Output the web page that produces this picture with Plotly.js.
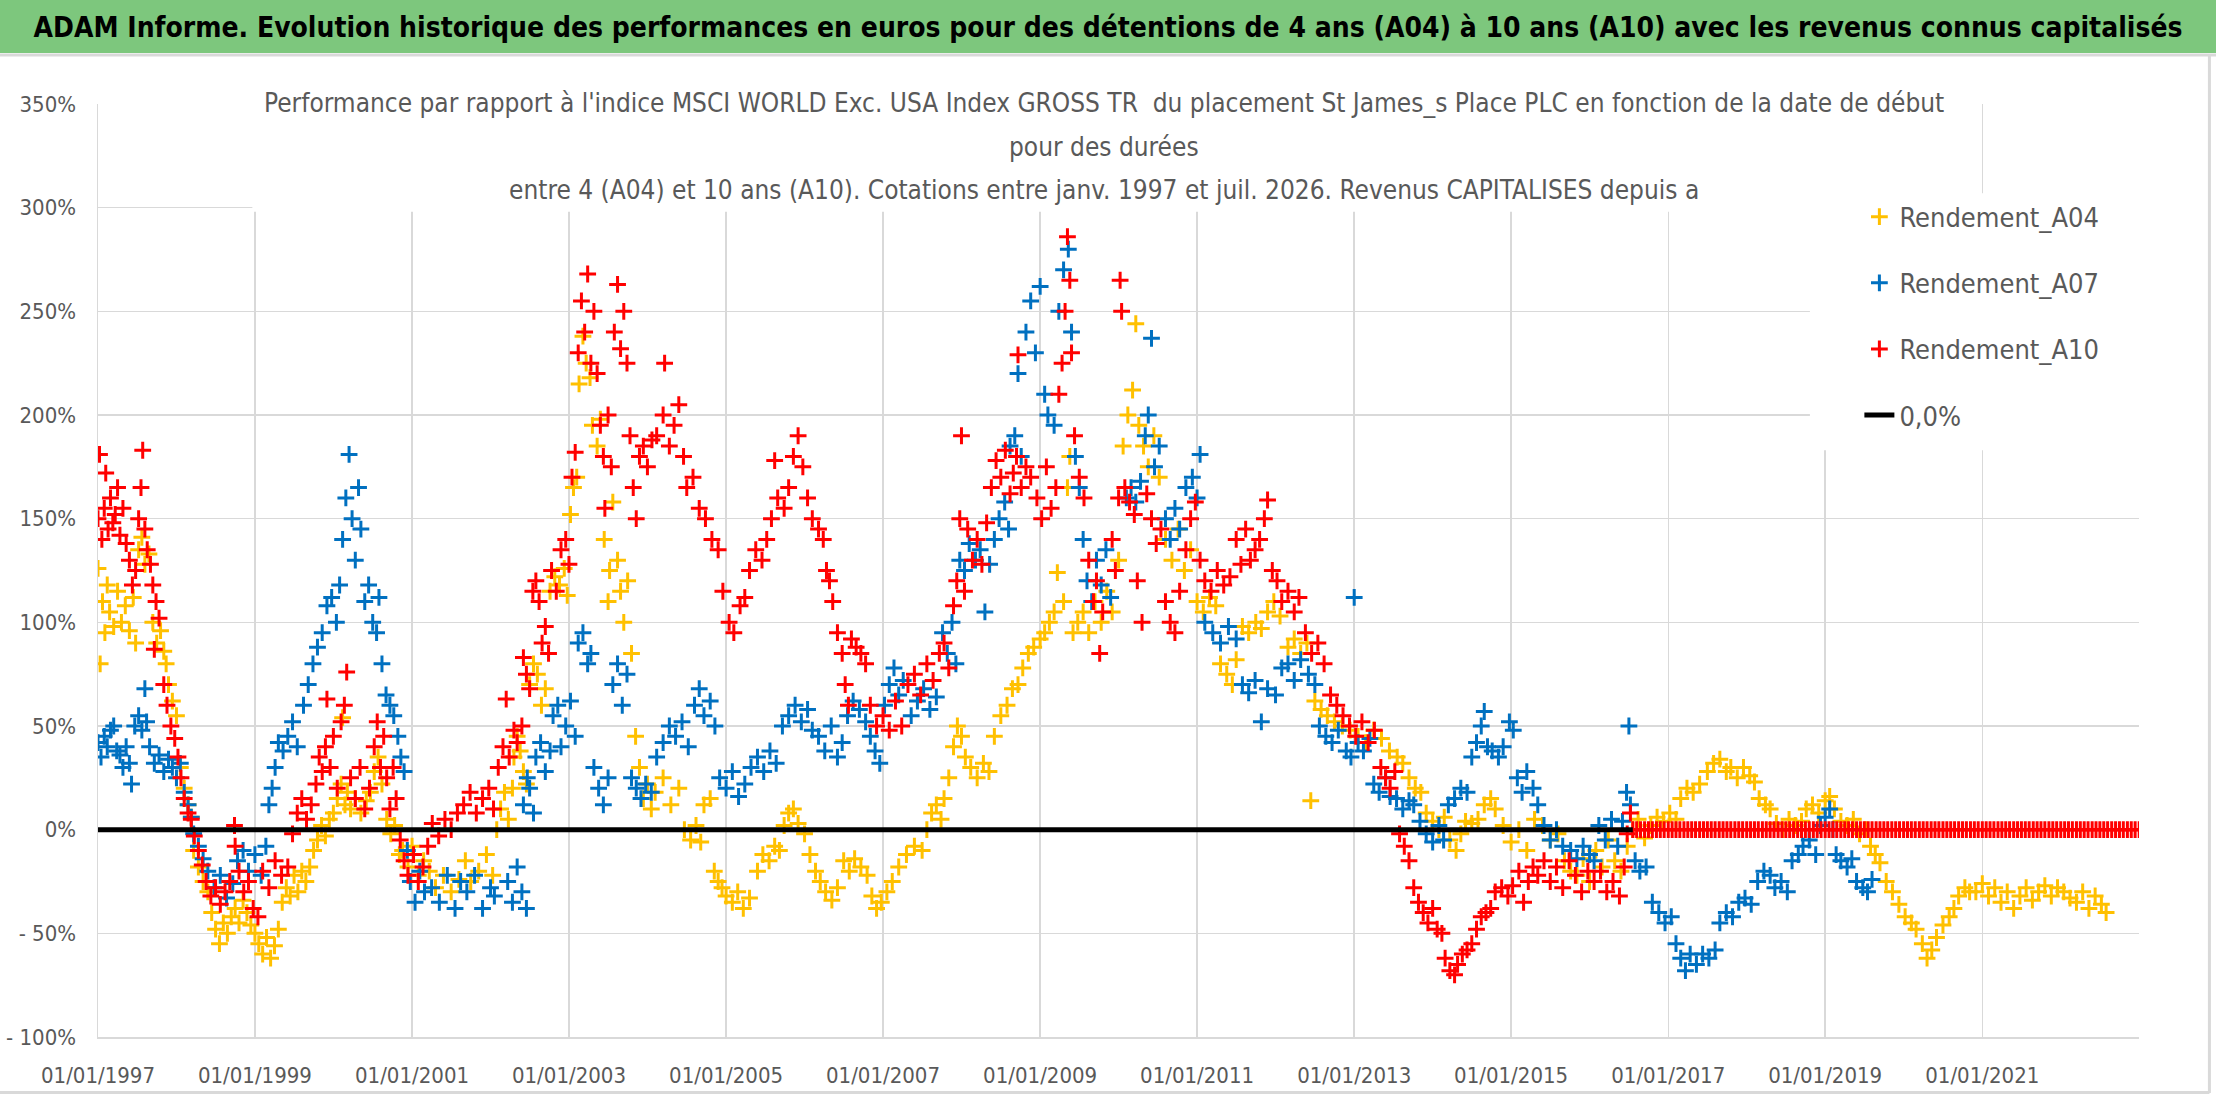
<!DOCTYPE html>
<html>
<head>
<meta charset="utf-8">
<script src="https://cdn.plot.ly/plotly-3.0.1.min.js"></script>
<style>
  html, body { margin: 0; padding: 0; background: #ffffff; }
  #chart { width: 2216px; height: 1102px; }
</style>
</head>
<body>
<div id="chart"></div>
<script>
'use strict';

// [decimal year, performance %]
const a04Points = [
  [1997.00,126],[1997.03,80],[1997.06,110],[1997.09,95],[1997.12,118],[1997.15,105],[1997.20,98],[1997.25,115],
  [1997.30,100],[1997.35,108],[1997.40,96],[1997.45,112],[1997.48,90],[1997.52,135],[1997.56,141],[1997.60,128],
  [1997.65,133],[1997.70,100],[1997.75,90],[1997.80,96],[1997.84,86],[1997.87,80],[1997.90,70],[1997.95,62],
  [1998.00,55],[1998.05,30],[1998.10,20],[1998.15,12],[1998.19,6],[1998.22,-10],[1998.28,-18],[1998.34,-25],
  [1998.40,-30],[1998.45,-40],[1998.50,-48],[1998.55,-55],[1998.60,-45],[1998.65,-50],[1998.70,-42],[1998.75,-38],
  [1998.80,-45],[1998.85,-34],[1998.90,-40],[1998.95,-46],[1999.00,-50],[1999.05,-55],[1999.10,-60],[1999.15,-52],
  [1999.20,-62],[1999.25,-56],[1999.30,-48],[1999.35,-35],[1999.40,-28],[1999.45,-32],[1999.50,-22],[1999.55,-30],
  [1999.60,-20],[1999.65,-25],[1999.70,-18],[1999.75,-10],[1999.80,-5],[1999.85,2],[1999.90,-3],[1999.95,5],
  [2000.00,8],[2000.05,15],[2000.10,22],[2000.12,54],[2000.15,12],[2000.18,18],[2000.22,10],[2000.28,15],
  [2000.35,8],[2000.42,14],[2000.47,18],[2000.52,28],[2000.57,35],[2000.62,22],[2000.68,5],[2000.73,-2],
  [2000.78,2],[2000.84,-12],[2000.88,-10],[2000.95,-18],[2001.00,-8],[2001.08,-22],[2001.15,-15],[2001.22,-20],
  [2001.30,-28],[2001.40,-22],[2001.50,-30],[2001.60,-24],[2001.68,-15],[2001.75,-25],[2001.85,-20],[2001.95,-12],
  [2002.03,-22],[2002.08,0],[2002.13,10],[2002.18,18],[2002.23,5],[2002.28,20],[2002.30,35],[2002.34,45],
  [2002.38,38],[2002.42,28],[2002.46,22],[2002.50,70],[2002.55,80],[2002.60,75],[2002.65,60],[2002.70,68],
  [2002.76,115],[2002.82,122],[2002.88,118],[2002.94,126],[2002.98,113],[2003.02,152],[2003.06,165],[2003.10,170],
  [2003.13,215],[2003.18,238],[2003.22,225],[2003.27,218],[2003.30,195],[2003.36,185],[2003.40,198],[2003.45,140],
  [2003.50,110],[2003.52,125],[2003.56,158],[2003.62,130],[2003.66,115],[2003.70,100],[2003.75,120],[2003.80,85],
  [2003.85,45],[2003.90,30],[2003.95,15],[2004.00,22],[2004.05,10],[2004.10,18],[2004.20,25],[2004.30,12],
  [2004.40,20],[2004.47,0],[2004.55,-5],[2004.62,2],[2004.68,-6],[2004.72,12],[2004.80,15],[2004.85,-20],
  [2004.90,-25],[2004.95,-28],[2005.00,-32],[2005.08,-35],[2005.15,-30],[2005.22,-38],[2005.30,-33],[2005.40,-20],
  [2005.47,-12],[2005.55,-15],[2005.62,-8],[2005.68,-10],[2005.74,2],[2005.80,8],[2005.86,10],[2005.92,3],
  [2006.00,-2],[2006.07,-12],[2006.14,-20],[2006.20,-25],[2006.27,-30],[2006.35,-34],[2006.42,-28],[2006.50,-15],
  [2006.57,-20],[2006.64,-14],[2006.72,-18],[2006.80,-22],[2006.86,-32],[2006.92,-38],[2006.98,-35],[2007.05,-30],
  [2007.12,-25],[2007.20,-18],[2007.30,-12],[2007.40,-8],[2007.50,-10],[2007.56,0],[2007.62,8],[2007.68,12],
  [2007.74,5],[2007.78,15],[2007.84,25],[2007.90,40],[2007.95,50],[2008.00,45],[2008.05,35],[2008.12,30],
  [2008.20,25],[2008.28,32],[2008.35,28],[2008.42,45],[2008.50,55],[2008.58,60],[2008.65,68],[2008.72,70],
  [2008.78,78],[2008.85,85],[2008.92,88],[2009.00,92],[2009.06,95],[2009.12,100],[2009.18,105],[2009.22,124],
  [2009.30,110],[2009.35,165],[2009.38,180],[2009.42,95],[2009.48,100],[2009.55,105],[2009.62,95],[2009.70,110],
  [2009.78,100],[2009.85,115],[2009.92,105],[2010.00,130],[2010.06,185],[2010.12,200],[2010.18,212],[2010.22,244],
  [2010.26,195],[2010.32,185],[2010.38,175],[2010.45,190],[2010.52,170],[2010.60,140],[2010.68,130],[2010.76,145],
  [2010.84,125],[2010.92,135],[2011.00,110],[2011.08,105],[2011.16,112],[2011.24,108],[2011.30,80],[2011.38,75],
  [2011.45,70],[2011.50,82],[2011.58,98],[2011.66,95],[2011.75,100],[2011.82,97],[2011.90,105],[2011.98,110],
  [2012.06,103],[2012.16,88],[2012.24,92],[2012.32,85],[2012.40,90],[2012.45,14],[2012.50,62],[2012.58,58],
  [2012.66,55],[2012.75,52],[2012.85,50],[2012.95,48],[2013.05,45],[2013.15,42],[2013.25,48],[2013.35,44],
  [2013.45,38],[2013.55,35],[2013.62,32],[2013.70,25],[2013.78,20],[2013.85,18],[2013.92,8],[2014.00,4],
  [2014.08,0],[2014.15,6],[2014.22,-5],[2014.30,-10],[2014.36,-2],[2014.42,4],[2014.50,3],[2014.58,5],
  [2014.66,12],[2014.74,15],[2014.80,10],[2014.90,2],[2015.00,-6],[2015.10,0],[2015.20,-10],[2015.30,5],
  [2015.40,2],[2015.50,-5],[2015.60,-2],[2015.68,-15],[2015.76,-20],[2015.84,-22],[2015.92,-14],[2016.00,-25],
  [2016.08,-10],[2016.16,-18],[2016.24,-5],[2016.32,-15],[2016.40,-20],[2016.48,-8],[2016.55,0],[2016.62,5],
  [2016.70,-4],[2016.78,2],[2016.86,6],[2016.94,4],[2017.02,8],[2017.10,5],[2017.16,15],[2017.24,20],
  [2017.32,18],[2017.40,22],[2017.50,28],[2017.58,32],[2017.66,34],[2017.74,28],[2017.80,30],[2017.88,25],
  [2017.96,30],[2018.04,26],[2018.10,23],[2018.16,15],[2018.24,12],[2018.30,10],[2018.38,3],[2018.46,0],
  [2018.54,5],[2018.62,2],[2018.70,4],[2018.76,10],[2018.84,12],[2018.92,8],[2019.00,14],[2019.06,16],
  [2019.12,10],[2019.20,4],[2019.28,2],[2019.36,5],[2019.44,-2],[2019.52,0],[2019.58,-8],[2019.64,-12],
  [2019.70,-16],[2019.78,-25],[2019.86,-30],[2019.94,-36],[2020.02,-42],[2020.10,-45],[2020.16,-48],[2020.24,-55],
  [2020.30,-62],[2020.36,-58],[2020.42,-52],[2020.50,-46],[2020.58,-42],[2020.64,-38],[2020.70,-32],[2020.78,-28],
  [2020.84,-30],[2020.92,-30],[2021.00,-26],[2021.08,-32],[2021.16,-28],[2021.24,-35],[2021.32,-30],[2021.40,-38],
  [2021.48,-32],[2021.56,-28],[2021.64,-34],[2021.72,-30],[2021.80,-27],[2021.88,-32],[2021.96,-28],[2022.04,-30],
  [2022.12,-33],[2022.20,-35],[2022.28,-30],[2022.36,-38],[2022.44,-32],[2022.52,-36],[2022.58,-40]
];

const a07Points = [
  [1997.00,42],[1997.04,35],[1997.08,45],[1997.12,40],[1997.16,48],[1997.20,50],[1997.24,38],[1997.28,36],
  [1997.32,30],[1997.36,40],[1997.40,32],[1997.43,22],[1997.47,50],[1997.52,55],[1997.56,48],[1997.60,68],
  [1997.62,52],[1997.66,40],[1997.72,32],[1997.78,36],[1997.84,28],[1997.90,34],[1997.95,30],[1998.00,25],
  [1998.05,32],[1998.10,18],[1998.15,12],[1998.19,6],[1998.22,-2],[1998.28,-8],[1998.34,-14],[1998.40,-20],
  [1998.48,-28],[1998.56,-22],[1998.64,-33],[1998.72,-26],[1998.78,-15],[1998.85,-10],[1998.92,-20],[1999.00,-12],
  [1999.08,-22],[1999.14,-8],[1999.18,12],[1999.22,20],[1999.26,30],[1999.30,42],[1999.36,38],[1999.42,45],
  [1999.48,52],[1999.54,40],[1999.62,60],[1999.68,70],[1999.74,80],[1999.80,88],[1999.86,95],[1999.92,108],
  [1999.98,112],[2000.04,100],[2000.08,118],[2000.12,140],[2000.16,160],[2000.20,181],[2000.24,150],[2000.28,130],
  [2000.32,165],[2000.35,145],[2000.40,110],[2000.45,118],[2000.50,100],[2000.55,95],[2000.58,112],[2000.62,80],
  [2000.67,65],[2000.72,60],[2000.77,55],[2000.82,45],[2000.86,35],[2000.90,28],[2000.94,-10],[2000.98,-25],
  [2001.04,-35],[2001.10,-20],[2001.16,-30],[2001.25,-28],[2001.35,-35],[2001.45,-22],[2001.55,-38],[2001.62,-25],
  [2001.70,-30],[2001.80,-22],[2001.90,-38],[2002.00,-28],[2002.05,-32],[2002.22,-25],[2002.28,-35],[2002.34,-18],
  [2002.40,-30],[2002.46,-38],[2002.42,12],[2002.47,25],[2002.50,20],[2002.55,8],[2002.58,35],[2002.64,42],
  [2002.70,28],[2002.76,38],[2002.80,55],[2002.86,60],[2002.90,40],[2002.96,50],[2003.02,62],[2003.08,45],
  [2003.12,90],[2003.18,95],[2003.24,80],[2003.28,85],[2003.32,30],[2003.38,20],[2003.44,12],[2003.50,25],
  [2003.56,70],[2003.62,80],[2003.68,60],[2003.74,75],[2003.80,25],[2003.86,20],[2003.92,15],[2003.98,22],
  [2004.05,18],[2004.12,35],[2004.20,42],[2004.28,50],[2004.36,45],[2004.44,52],[2004.52,40],[2004.60,60],
  [2004.66,68],[2004.72,55],[2004.80,62],[2004.86,50],[2004.92,25],[2005.00,20],[2005.08,28],[2005.16,16],
  [2005.24,22],[2005.32,30],[2005.40,35],[2005.48,28],[2005.56,38],[2005.64,32],[2005.72,50],[2005.80,55],
  [2005.88,60],[2005.96,52],[2006.04,58],[2006.10,48],[2006.18,45],[2006.26,38],[2006.34,50],[2006.42,35],
  [2006.48,42],[2006.55,55],[2006.62,62],[2006.70,58],[2006.78,52],[2006.84,45],[2006.90,38],[2006.96,32],
  [2007.02,60],[2007.08,70],[2007.14,78],[2007.20,65],[2007.26,72],[2007.36,55],[2007.44,62],[2007.52,68],
  [2007.60,58],[2007.68,64],[2007.76,95],[2007.82,85],[2007.88,100],[2007.93,80],[2007.98,130],[2008.04,125],
  [2008.10,138],[2008.18,130],[2008.24,135],[2008.30,105],[2008.36,128],[2008.42,140],[2008.48,150],[2008.55,158],
  [2008.60,145],[2008.62,185],[2008.68,190],[2008.72,220],[2008.76,180],[2008.82,240],[2008.88,255],[2008.94,230],
  [2009.00,262],[2009.06,210],[2009.10,200],[2009.18,195],[2009.24,250],[2009.30,270],[2009.36,280],[2009.40,240],
  [2009.45,180],[2009.50,165],[2009.55,140],[2009.60,120],[2009.66,110],[2009.72,130],[2009.78,118],[2009.84,135],
  [2009.90,112],[2010.10,160],[2010.16,165],[2010.22,158],[2010.28,168],[2010.34,190],[2010.38,200],[2010.42,237],
  [2010.46,175],[2010.52,185],[2010.60,150],[2010.66,140],[2010.72,155],[2010.78,145],[2010.86,165],[2010.94,170],
  [2011.00,160],[2011.04,181],[2011.10,100],[2011.20,95],[2011.30,90],[2011.40,98],[2011.50,92],[2011.58,70],
  [2011.66,66],[2011.74,72],[2011.82,52],[2011.90,68],[2012.00,65],[2012.08,78],[2012.16,80],[2012.24,72],
  [2012.32,82],[2012.42,75],[2012.50,70],[2012.56,50],[2012.64,45],[2012.72,42],[2012.80,48],[2012.90,38],
  [2012.96,35],[2013.00,112],[2013.05,42],[2013.12,38],[2013.20,44],[2013.25,22],[2013.32,18],[2013.40,25],
  [2013.46,16],[2013.54,15],[2013.62,10],[2013.70,14],[2013.76,12],[2013.84,4],[2013.92,-2],[2014.00,-6],
  [2014.08,2],[2014.14,-5],[2014.20,12],[2014.28,15],[2014.36,20],[2014.44,18],[2014.50,35],[2014.56,42],
  [2014.62,50],[2014.66,57],[2014.70,40],[2014.76,38],[2014.84,35],[2014.90,40],[2014.98,52],[2015.03,48],
  [2015.08,25],[2015.14,18],[2015.20,28],[2015.28,20],[2015.34,12],[2015.42,2],[2015.50,-5],[2015.58,0],
  [2015.66,-8],[2015.76,-10],[2015.84,-14],[2015.92,-8],[2016.00,-12],[2016.06,-15],[2016.12,2],[2016.20,-5],
  [2016.28,5],[2016.36,-8],[2016.42,4],[2016.47,18],[2016.50,50],[2016.52,12],[2016.58,-15],[2016.64,-20],
  [2016.72,-18],[2016.80,-35],[2016.88,-40],[2016.96,-45],[2017.04,-42],[2017.10,-55],[2017.16,-62],[2017.22,-68],
  [2017.28,-60],[2017.36,-65],[2017.44,-60],[2017.52,-62],[2017.60,-58],[2017.66,-45],[2017.74,-40],[2017.82,-42],
  [2017.90,-35],[2017.98,-33],[2018.06,-36],[2018.14,-25],[2018.22,-20],[2018.30,-22],[2018.36,-28],[2018.44,-25],
  [2018.52,-30],[2018.58,-15],[2018.66,-12],[2018.72,-8],[2018.80,-5],[2018.88,-12],[2018.94,2],[2019.00,6],
  [2019.06,10],[2019.10,0],[2019.14,-12],[2019.20,-15],[2019.28,-18],[2019.34,-14],[2019.40,-25],[2019.48,-28],
  [2019.54,-30],[2019.60,-24]
];

const a10Points = [
  [1997.00,150],[1997.02,181],[1997.05,140],[1997.08,155],[1997.10,172],[1997.13,145],[1997.16,160],[1997.19,148],
  [1997.22,152],[1997.25,165],[1997.28,142],[1997.32,155],[1997.36,138],[1997.40,130],[1997.44,118],[1997.48,125],
  [1997.52,150],[1997.55,165],[1997.57,183],[1997.60,145],[1997.63,135],[1997.67,128],[1997.70,118],[1997.72,87],
  [1997.74,110],[1997.78,102],[1997.84,70],[1997.88,60],[1997.93,50],[1997.98,44],[1998.02,35],[1998.06,25],
  [1998.10,15],[1998.15,8],[1998.19,5],[1998.23,-3],[1998.28,-10],[1998.33,-17],[1998.38,-25],[1998.44,-32],
  [1998.50,-28],[1998.56,-36],[1998.62,-30],[1998.68,-25],[1998.74,2],[1998.75,-8],[1998.80,-20],[1998.86,-30],
  [1998.92,-25],[1998.98,-38],[1999.04,-42],[1999.10,-20],[1999.18,-28],[1999.26,-15],[1999.34,-22],[1999.42,-18],
  [1999.48,-2],[1999.54,8],[1999.60,15],[1999.66,5],[1999.72,12],[1999.78,22],[1999.82,35],[1999.86,28],
  [1999.90,40],[1999.92,63],[1999.96,30],[2000.00,45],[2000.05,20],[2000.10,52],[2000.14,60],[2000.17,76],
  [2000.22,25],[2000.28,15],[2000.34,30],[2000.40,10],[2000.46,20],[2000.52,40],[2000.56,52],[2000.60,30],
  [2000.64,45],[2000.68,25],[2000.72,10],[2000.76,30],[2000.80,15],[2000.85,-5],[2000.90,-15],[2000.95,-22],
  [2001.02,-12],[2001.08,-25],[2001.14,-18],[2001.20,-8],[2001.26,3],[2001.34,-3],[2001.42,5],[2001.50,0],
  [2001.58,8],[2001.66,12],[2001.74,18],[2001.82,8],[2001.90,15],[2001.98,20],[2002.04,10],[2002.10,30],
  [2002.16,40],[2002.20,63],[2002.24,35],[2002.30,48],[2002.34,42],[2002.40,50],[2002.42,83],[2002.46,75],
  [2002.50,68],[2002.54,115],[2002.58,120],[2002.62,110],[2002.66,90],[2002.70,98],[2002.74,85],[2002.78,125],
  [2002.84,115],[2002.90,135],[2002.96,140],[2003.00,128],[2003.04,170],[2003.08,182],[2003.12,230],[2003.16,255],
  [2003.20,240],[2003.24,268],[2003.28,225],[2003.32,250],[2003.36,220],[2003.40,195],[2003.44,180],[2003.46,155],
  [2003.50,200],[2003.54,175],[2003.58,240],[2003.62,263],[2003.66,232],[2003.70,250],[2003.74,225],[2003.78,190],
  [2003.82,165],[2003.86,150],[2003.90,180],[2003.95,185],[2004.00,175],[2004.06,188],[2004.12,190],[2004.20,200],
  [2004.22,225],[2004.28,185],[2004.34,195],[2004.40,205],[2004.46,180],[2004.50,165],[2004.58,170],[2004.66,155],
  [2004.74,150],[2004.82,140],[2004.90,135],[2004.96,115],[2005.04,100],[2005.10,95],[2005.18,108],[2005.24,112],
  [2005.30,125],[2005.38,135],[2005.46,130],[2005.52,140],[2005.58,150],[2005.62,178],[2005.66,160],[2005.74,155],
  [2005.80,165],[2005.86,180],[2005.92,190],[2005.98,175],[2006.04,160],[2006.10,150],[2006.18,145],[2006.24,140],
  [2006.28,125],[2006.32,120],[2006.36,110],[2006.42,95],[2006.48,85],[2006.52,70],[2006.56,60],[2006.60,92],
  [2006.66,88],[2006.72,85],[2006.78,80],[2006.84,60],[2006.92,50],[2007.00,55],[2007.08,48],[2007.16,62],
  [2007.24,50],[2007.32,70],[2007.40,75],[2007.48,65],[2007.56,80],[2007.64,72],[2007.72,85],[2007.78,90],
  [2007.84,78],[2007.90,108],[2007.94,120],[2007.98,150],[2008.00,190],[2008.04,115],[2008.08,145],[2008.14,130],
  [2008.20,140],[2008.26,128],[2008.32,148],[2008.38,165],[2008.44,178],[2008.50,170],[2008.56,183],[2008.62,162],
  [2008.66,172],[2008.70,180],[2008.72,229],[2008.76,165],[2008.82,175],[2008.88,170],[2008.96,160],[2009.02,150],
  [2009.08,175],[2009.14,155],[2009.20,165],[2009.24,210],[2009.28,225],[2009.32,250],[2009.35,286],[2009.38,265],
  [2009.40,230],[2009.44,190],[2009.50,170],[2009.56,160],[2009.62,130],[2009.68,110],[2009.72,120],[2009.76,85],
  [2009.80,105],[2009.92,140],[2009.96,125],[2010.00,160],[2010.02,265],[2010.04,250],[2010.08,165],[2010.14,158],
  [2010.20,152],[2010.24,120],[2010.30,100],[2010.36,162],[2010.42,150],[2010.48,138],[2010.54,145],[2010.60,110],
  [2010.66,100],[2010.72,95],[2010.78,115],[2010.86,135],[2010.92,150],[2010.98,158],[2011.04,130],[2011.10,120],
  [2011.18,115],[2011.26,125],[2011.34,118],[2011.42,122],[2011.50,140],[2011.56,128],[2011.62,145],[2011.68,130],
  [2011.74,135],[2011.80,140],[2011.86,150],[2011.90,159],[2011.96,125],[2012.02,120],[2012.08,110],[2012.16,115],
  [2012.24,105],[2012.30,112],[2012.38,95],[2012.46,85],[2012.54,90],[2012.62,80],[2012.70,65],[2012.78,60],
  [2012.86,55],[2012.94,50],[2013.02,45],[2013.10,52],[2013.18,42],[2013.26,48],[2013.34,30],[2013.40,25],
  [2013.46,20],[2013.52,28],[2013.58,-2],[2013.64,-8],[2013.70,-15],[2013.76,-28],[2013.82,-35],[2013.88,-40],
  [2013.94,-45],[2014.00,-38],[2014.06,-48],[2014.12,-50],[2014.16,-62],[2014.22,-68],[2014.28,-70],[2014.32,-65],
  [2014.38,-60],[2014.44,-58],[2014.50,-55],[2014.56,-48],[2014.62,-42],[2014.68,-40],[2014.74,-38],[2014.80,-30],
  [2014.88,-28],[2014.96,-32],[2015.02,-27],[2015.10,-20],[2015.16,-35],[2015.22,-25],[2015.28,-18],[2015.34,-22],
  [2015.42,-15],[2015.50,-25],[2015.58,-18],[2015.66,-28],[2015.74,-15],[2015.82,-22],[2015.90,-30],[2015.98,-20],
  [2016.06,-25],[2016.14,-20],[2016.22,-30],[2016.30,-25],[2016.38,-32],[2016.44,-18],[2016.48,-2],[2016.52,8],
  [2016.55,0],[2016.60,0],[2016.65,0],[2016.70,0],[2016.75,0],[2016.80,0],[2016.85,0],[2016.90,0],[2016.95,0],
  [2017.00,0],[2017.05,0],[2017.10,0],[2017.15,0],[2017.20,0],[2017.25,0],[2017.30,0],[2017.35,0],[2017.40,0],
  [2017.45,0],[2017.50,0],[2017.55,0],[2017.60,0],[2017.65,0],[2017.70,0],[2017.75,0],[2017.80,0],[2017.85,0],
  [2017.90,0],[2017.95,0],[2018.00,0],[2018.05,0],[2018.10,0],[2018.15,0],[2018.20,0],[2018.25,0],[2018.30,0],
  [2018.35,0],[2018.40,0],[2018.45,0],[2018.50,0],[2018.55,0],[2018.60,0],[2018.65,0],[2018.70,0],[2018.75,0],
  [2018.80,0],[2018.85,0],[2018.90,0],[2018.95,0],[2019.00,0],[2019.05,0],[2019.10,0],[2019.15,0],[2019.20,0],
  [2019.25,0],[2019.30,0],[2019.35,0],[2019.40,0],[2019.45,0],[2019.50,0],[2019.55,0],[2019.60,0],[2019.65,0],
  [2019.70,0],[2019.75,0],[2019.80,0],[2019.85,0],[2019.90,0],[2019.95,0],[2020.00,0],[2020.05,0],[2020.10,0],
  [2020.15,0],[2020.20,0],[2020.25,0],[2020.30,0],[2020.35,0],[2020.40,0],[2020.45,0],[2020.50,0],[2020.55,0],
  [2020.60,0],[2020.65,0],[2020.70,0],[2020.75,0],[2020.80,0],[2020.85,0],[2020.90,0],[2020.95,0],[2021.00,0],
  [2021.05,0],[2021.10,0],[2021.15,0],[2021.20,0],[2021.25,0],[2021.30,0],[2021.35,0],[2021.40,0],[2021.45,0],
  [2021.50,0],[2021.55,0],[2021.60,0],[2021.65,0],[2021.70,0],[2021.75,0],[2021.80,0],[2021.85,0],[2021.90,0],
  [2021.95,0],[2022.00,0],[2022.05,0],[2022.10,0],[2022.15,0],[2022.20,0],[2022.25,0],[2022.30,0],[2022.35,0],
  [2022.40,0],[2022.45,0],[2022.50,0],[2022.55,0],[2022.60,0],[2022.65,0],[2022.70,0],[2022.75,0],[2022.80,0],
  [2022.85,0],[2022.90,0],[2022.95,0],[2023.00,0]
];

const zeroYears = [1997.0, 2016.55];
const zeroValues = [0, 0];

const seriesNames = ['Rendement_A04', 'Rendement_A07', 'Rendement_A10', '0,0%'];
const seriesColors = ['#FFC000', '#0070C0', '#FF0000', '#000000'];

const yTickVals = [-100, -50, 0, 50, 100, 150, 200, 250, 300, 350];
const yTickText = ['- 100%', '- 50%', '0%', '50%', '100%', '150%', '200%', '250%', '300%', '350%'];

const mainTitle = 'ADAM Informe. Evolution historique des performances en euros pour des détentions de 4 ans (A04) à 10 ans (A10) avec les revenus connus capitalisés';
const subTitleLines = [
  "Performance par rapport à l'indice MSCI WORLD Exc. USA Index GROSS TR  du placement St James_s Place PLC en fonction de la date de début",
  'pour des durées',
  'entre 4 (A04) et 10 ans (A10). Cotations entre janv. 1997 et juil. 2026. Revenus CAPITALISES depuis a'
];

const FONT = '"DejaVu Sans Condensed", "DejaVu Sans", sans-serif';
const GREY = '#595959';
const GRID = '#D9D9D9';

// decimal year -> yyyy-mm-dd
function toDate(t) {
  const y = Math.floor(t);
  const start = Date.UTC(y, 0, 1);
  const end = Date.UTC(y + 1, 0, 1);
  return new Date(start + (t - y) * (end - start)).toISOString().slice(0, 10);
}

function markerTrace(points, i) {
  return {
    type: 'scatter',
    mode: 'markers',
    name: seriesNames[i],
    legendgroup: seriesNames[i],
    x: points.map(p => toDate(p[0])),
    y: points.map(p => p[1]),
    marker: { symbol: 'cross-thin', size: 12, line: { width: 3, color: seriesColors[i] } },
    hoverinfo: 'skip'
  };
}

const data = [
  markerTrace(a04Points, 0),
  markerTrace(a07Points, 1),
  markerTrace(a10Points, 2),
  {
    type: 'scatter',
    mode: 'lines',
    name: seriesNames[3],
    legendgroup: seriesNames[3],
    x: zeroYears.map(toDate),
    y: zeroValues,
    line: { color: seriesColors[3], width: 5 },
    hoverinfo: 'skip'
  }
];

// plot area in page pixels: left 98, right 2139, top 104, bottom 1037
const subY = [1.0011, 0.9539, 0.9078];

const layout = {
  width: 2216,
  height: 1102,
  margin: { l: 98, r: 77, t: 104, b: 65 },
  paper_bgcolor: '#ffffff',
  plot_bgcolor: '#ffffff',
  font: { family: FONT, color: GREY },
  title: {
    text: mainTitle,
    x: 0.5, xref: 'container', xanchor: 'center',
    y: 0.9755, yref: 'container', yanchor: 'middle',
    font: { family: FONT, size: 28, color: '#000000', weight: 700 }
  },
  xaxis: {
    type: 'date',
    range: ['1997-01-01', '2022-12-31'],
    tick0: '1997-01-01',
    dtick: 'M24',
    tickformat: '%d/%m/%Y',
    showgrid: true,
    gridcolor: GRID,
    gridwidth: 1.5,
    showline: true,
    linecolor: GRID,
    linewidth: 2,
    zeroline: false,
    ticks: '',
    ticklabelstandoff: 18,
    tickfont: { family: FONT, size: 22, color: GREY }
  },
  yaxis: {
    range: [-100, 350],
    tickvals: yTickVals,
    ticktext: yTickText,
    showgrid: true,
    gridcolor: GRID,
    gridwidth: 1.5,
    showline: true,
    linecolor: GRID,
    linewidth: 1.5,
    zeroline: false,
    ticks: '',
    ticklabelstandoff: 16,
    tickfont: { family: FONT, size: 22, color: GREY }
  },
  legend: {
    x: 0.863, xanchor: 'left',
    y: 0.905, yanchor: 'top',
    bgcolor: 'rgba(255,255,255,0)',
    font: { family: FONT, size: 27, color: GREY },
    tracegroupgap: 28,
    itemwidth: 30
  },
  showlegend: true,
  annotations: subTitleLines.map((t, i) => ({
    text: t,
    xref: 'paper', yref: 'paper',
    x: 0.4929, y: subY[i],
    xanchor: 'center', yanchor: 'middle',
    showarrow: false,
    font: { family: FONT, size: 26, color: GREY }
  })),
  shapes: [
    // green title band
    { type: 'rect', xref: 'paper', yref: 'paper', x0: -0.0481, x1: 1.0378, y0: 1.0547, y1: 1.1115,
      fillcolor: '#7DC77D', line: { width: 0 }, layer: 'below' },
    { type: 'line', xref: 'paper', yref: 'paper', x0: -0.0481, x1: 1.0378, y0: 1.0525, y1: 1.0525,
      line: { color: GRID, width: 3 } },
    // chart frame
    { type: 'line', xref: 'paper', yref: 'paper', x0: 1.0345, x1: 1.0345, y0: -0.06, y1: 1.052,
      line: { color: GRID, width: 3 } },
    { type: 'line', xref: 'paper', yref: 'paper', x0: -0.0481, x1: 1.0345, y0: -0.0595, y1: -0.0595,
      line: { color: GRID, width: 3 } },
    // white boxes behind subtitle and legend hide the gridlines
    { type: 'rect', xref: 'x', yref: 'y', x0: '1998-12-20', x1: '2020-09-15', y0: 298, y1: 360,
      fillcolor: '#ffffff', line: { width: 0 }, layer: 'between' },
    { type: 'rect', xref: 'x', yref: 'y', x0: '2018-10-22', x1: '2023-02-01', y0: 183, y1: 307,
      fillcolor: '#ffffff', line: { width: 0 }, layer: 'between' }
  ]
};

Plotly.newPlot('chart', data, layout, { displayModeBar: false, staticPlot: true });
</script>
</body>
</html>
